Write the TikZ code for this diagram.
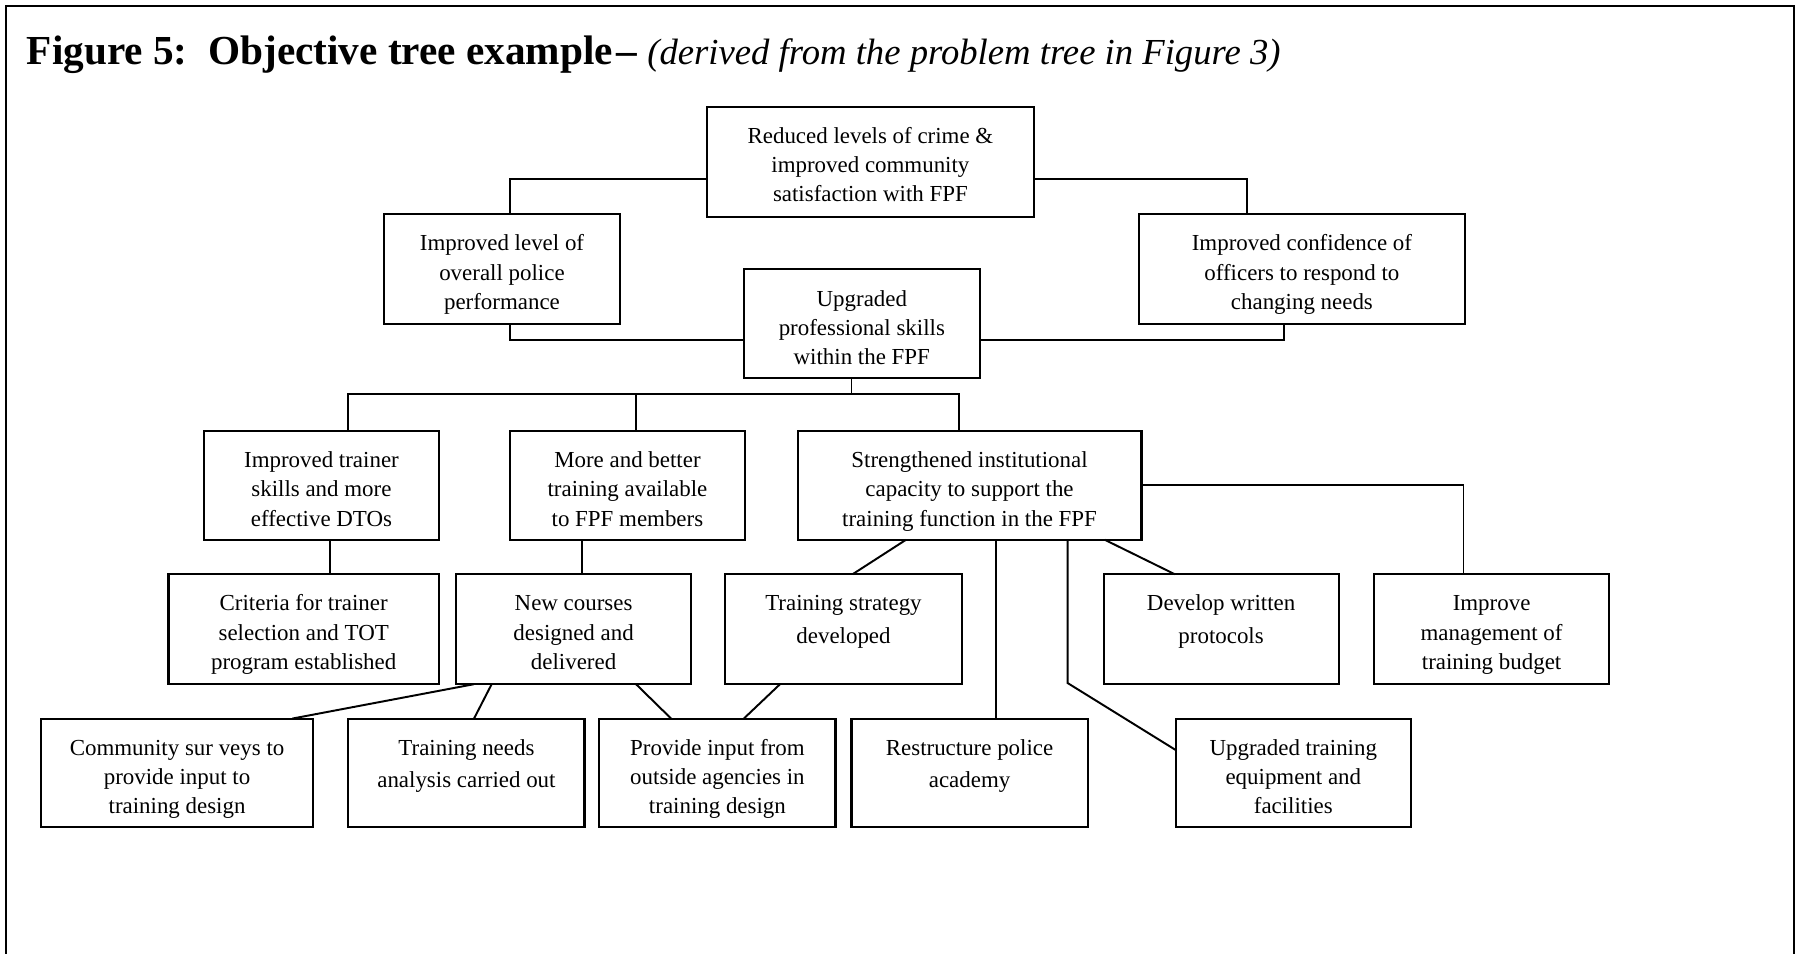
\documentclass[tikz,border=0pt]{standalone}
\usepackage{fontspec}
\setmainfont{Liberation Serif}
\usetikzlibrary{calc}

% text block of an objective box: fixed size, lines hung from the top
\newcommand\objtext[3]{%
  \begin{minipage}[t][#2][t]{#1}\centering
    \fontsize{10}{12.75}\selectfont\rule{0pt}{16pt}#3%
  \end{minipage}}
% \objbox{name}{x}{y}{width}{height}{text}, placed by its top left corner
\newcommand\objbox[6]{%
  \node[objnode] (#1) at (#2,#3) {\objtext{#4}{#5}{#6}};}

\tikzset{
  objnode/.style={draw, line width=0.9pt, inner sep=0pt, outer sep=0pt,
    anchor=north west},
  link/.style={line width=0.85pt},
  frame/.style={line width=0.9pt}
}

\begin{document}
\begin{tikzpicture}[x=0.5pt,y=-0.5pt]
\useasboundingbox (0,0) rectangle (1568,832.4);

% outer frame, open at the bottom
\draw[frame] (5,832.4) -- (5,5) -- (1565,5) -- (1565,832.4);

% heading
\node[anchor=base west, inner sep=0pt] (title) at (23,56)
  {\fontsize{18}{20}\selectfont\bfseries Figure 5:\ \ Objective tree example\hspace{1.5pt}–\ %
   {\fontsize{16}{18}\selectfont\mdseries\itshape (derived from the problem tree in Figure 3)}};

% goal and purpose level
\objbox{top}{617}{93}{142.5pt}{48pt}{Reduced levels of crime \&\\ improved community\\ satisfaction with FPF}
\objbox{perf}{335}{187}{103pt}{48pt}{Improved level of\\ overall police\\ performance}
\objbox{conf}{994}{187}{142pt}{48pt}{Improved confidence of\\ officers to respond to\\ changing needs}
\objbox{skills}{649}{235}{103pt}{47.5pt}{Upgraded\\ professional skills\\ within the FPF}

% outputs
\objbox{trainer}{178}{376}{102.5pt}{47.5pt}{Improved trainer\\ skills and more\\ effective DTOs}
\objbox{more}{445}{376}{102.5pt}{47.5pt}{More and better\\ training available\\ to FPF members}
\objbox{strength}{696}{376}{150pt}{47.5pt}{Strengthened institutional\\ capacity to support the\\ training function in the FPF}

% activities, first row
\objbox{criteria}{147}{501}{118pt}{48pt}{Criteria for trainer\\ selection and TOT\\ program established}
\objbox{newc}{398}{501}{102.5pt}{48pt}{New courses\\ designed and\\ delivered}
\objbox{strat}{633}{501}{103pt}{48pt}{Training strategy\\[1.5pt] developed}
\objbox{protocols}{963}{501}{102.5pt}{48pt}{Develop written\\[1.5pt] protocols}
\objbox{budget}{1199}{501}{102.5pt}{48pt}{Improve\\ management of\\ training budget}

% activities, second row
\objbox{community}{36}{627}{118.5pt}{47.5pt}{Community sur veys to\\ provide input to\\ training design}
\objbox{needs}{304}{627}{103pt}{47.5pt}{Training needs\\[1.5pt] analysis carried out}
\objbox{outside}{523}{627}{103pt}{47.5pt}{Provide input from\\ outside agencies in\\ training design}
\objbox{restructure}{743}{627}{103pt}{47.5pt}{Restructure police\\[1.5pt] academy}
\objbox{equip}{1026}{627}{102.5pt}{47.5pt}{Upgraded training\\ equipment and\\ facilities}

% links between goal and purpose
\draw[link] ([yshift=-7.5pt]top.west) -| ([xshift=3.5pt]perf.north);
\draw[link] ([yshift=-7.5pt]top.east) -| ([xshift=-24pt]conf.north);
\draw[link] ([xshift=3.5pt]perf.south) |- ([yshift=-7.25pt]skills.west);
\draw[link] ([xshift=-8pt]conf.south) |- ([yshift=-7.25pt]skills.east);

% purpose to outputs
\draw[link] ([xshift=-4.5pt]skills.south) -- ++(0,-7pt) coordinate (hub);
\draw[link] ([xshift=11.75pt]trainer.north) |- (hub) -| ([xshift=-4.5pt]strength.north);
\draw[link] (hub) -| ([xshift=3.75pt]more.north);

% outputs to activities
\draw[link] ([xshift=3.75pt]trainer.south) -- ([xshift=11.5pt]criteria.north);
\draw[link] ([xshift=-19.75pt]more.south) -- ([xshift=3.75pt]newc.north);
\draw[link] ([xshift=-27.75pt]strength.south) -- ([xshift=4pt]strat.north);
\draw[link] ([xshift=11.5pt]strength.south) -- ([xshift=11.5pt]restructure.north);
\draw[link] ([xshift=42.8pt]strength.south) -- ++(0,-62.5pt) -- ([yshift=10pt]equip.west);
\draw[link] ([xshift=59pt]strength.south) -- ([xshift=-20.25pt]protocols.north);
\draw[link] (strength.east) -| ([xshift=-12.25pt]budget.north);

% activities feeding the new courses and the strategy
\draw[link] ([xshift=-43.5pt]newc.south) -- ([xshift=50.25pt]community.north);
\draw[link] ([xshift=-35.75pt]newc.south) -- ([xshift=3.3pt]needs.north);
\draw[link] ([xshift=27.25pt]newc.south) -- ([xshift=-20.2pt]outside.north);
\draw[link] ([xshift=-27.7pt]strat.south) -- ([xshift=11.5pt]outside.north);
\end{tikzpicture}
\end{document}
